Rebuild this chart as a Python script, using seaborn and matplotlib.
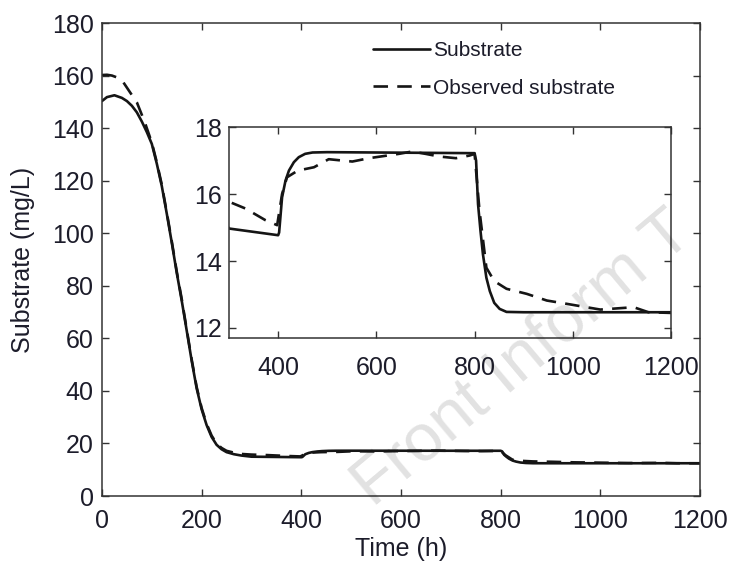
import numpy as np
import pandas as pd
import matplotlib
matplotlib.use("Agg")
import matplotlib.pyplot as plt
import seaborn as sns

# model output (solid line)
time_model = [0, 10, 25, 40, 50, 60, 70, 80, 90, 100, 110, 120, 130, 140, 150, 160, 170,
              180, 190, 200, 210, 220, 230, 240, 250, 265, 280,
              300, 350, 400, 402, 408, 415, 422, 432, 442, 455, 470, 500, 800, 803, 807,
              812, 817, 824, 831, 840, 851, 865, 900, 1200]
substrate = [150.3, 151.8, 152.5, 151.5, 150.3, 148.5, 146.0, 142.5, 138.5, 134.0, 126.5,
             118.0, 107.5, 96.5, 85.0, 74.4, 63.0, 51.5, 41.0, 33.0, 27.0, 22.5, 19.5,
             17.8, 16.7, 15.9, 15.4,
             14.97, 14.87, 14.77, 14.85, 15.9, 16.4, 16.7, 16.95, 17.1, 17.2, 17.24, 17.25,
             17.22, 17.0, 15.7, 14.9, 14.2, 13.5, 13.1, 12.75, 12.57, 12.48, 12.47, 12.47]

# observer estimate (dashed line)
time_obs = [0, 10, 20, 30, 43, 55, 70, 86, 100, 110, 120, 130, 140, 150, 160, 170, 180,
            190, 200, 210, 220, 230, 240, 250, 265, 280,
            300, 333, 374, 398, 408, 418, 440, 473, 503, 551, 585, 646, 673, 700,
            728, 762, 790, 800, 810, 824, 840, 865, 906, 947, 988, 1056, 1124, 1154, 1200]
observed = [160.2, 160.3, 160.0, 159.3, 157.4, 154.0, 149.8, 142.2, 134.5, 127.0, 118.5,
            108.0, 97.0, 85.5, 75.0, 63.5, 52.0, 41.5, 33.5, 27.5, 23.0, 20.0, 18.3, 17.2,
            16.5, 16.0,
            15.77, 15.57, 15.22, 15.07, 16.0, 16.5, 16.7, 16.8, 17.04, 16.97, 17.07, 17.2,
            17.27, 17.2, 17.12, 17.07, 17.15, 17.2, 15.5, 13.8, 13.4, 13.17, 13.02, 12.82,
            12.72, 12.55, 12.62, 12.47, 12.45]

df_model = pd.DataFrame({"t": time_model, "s": substrate})
df_obs = pd.DataFrame({"t": time_obs, "s": observed})

sns.set_theme(style="ticks")
plt.rcParams["font.family"] = ["Liberation Sans", "DejaVu Sans"]

txt_color = "#1c1c2a"
line_color = "#151515"
lw = 1.9


def style_axes(ax, pad_x, pad_y):
    for sp in ax.spines.values():
        sp.set_visible(True)
        sp.set_color("#333333")
        sp.set_linewidth(1.1)
    ax.tick_params(direction="in", top=True, right=True, length=5, width=1,
                   color="#333333", labelsize=18, labelcolor=txt_color)
    ax.tick_params(axis="x", pad=pad_x)
    ax.tick_params(axis="y", pad=pad_y)


def draw_lines(ax, legend=False):
    sns.lineplot(data=df_model, x="t", y="s", ax=ax, color=line_color, linewidth=lw,
                 label="Substrate" if legend else None, sort=False)
    sns.lineplot(data=df_obs, x="t", y="s", ax=ax, color=line_color, linewidth=lw,
                 linestyle=(0, (5.5, 3.5)),
                 label="Observed substrate" if legend else None, sort=False)


fig = plt.figure(figsize=(7.31, 5.71), dpi=100)
ax = fig.add_axes([0.1395, 0.1313, 0.818, 0.8284])
draw_lines(ax, legend=True)
ax.set_xlim(0, 1200)
ax.set_ylim(0, 180)
ax.set_xticks(np.arange(0, 1201, 200))
ax.set_yticks(np.arange(0, 181, 20))
ax.set_xlabel("Time (h)", fontsize=18, color=txt_color, labelpad=3)
ax.set_ylabel("Substrate (mg/L)", fontsize=18, color=txt_color, labelpad=12)
style_axes(ax, 9, 6)
ax.legend(loc="upper left", bbox_to_anchor=(0.44, 0.98), frameon=False, fontsize=15,
          handlelength=2.7, handletextpad=0.15, labelspacing=0.9, borderaxespad=0,
          labelcolor=txt_color)

# inset zoom of the later part
axin = fig.add_axes([0.3133, 0.408, 0.6047, 0.3695])
draw_lines(axin)
axin.set_xlim(300, 1200)
axin.set_ylim(11.7, 18)
axin.set_xticks(np.arange(400, 1201, 200))
axin.set_yticks(np.arange(12, 19, 2))
axin.set_xlabel("")
axin.set_ylabel("")
style_axes(axin, 13, 5)

# journal watermark
fig.text(0.715, 0.37, "Front Inform T", fontsize=48, color="k", alpha=0.13,
         rotation=40, ha="center", va="center")

fig.savefig("out.png", dpi=100)
